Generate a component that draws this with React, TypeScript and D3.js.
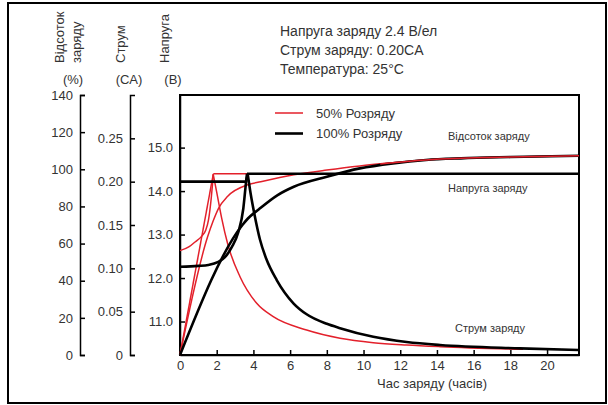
import React, { useRef, useEffect } from 'react';
import * as d3 from 'd3';

type Pt = [number, number];

// час (год), значення
const voltage50: Pt[] = [[0, 12.63], [0.5, 12.72], [0.82, 12.83], [1.2, 12.97], [1.4, 13.1], [1.55, 13.33], [1.7, 13.83], [1.78, 14.2], [1.82, 14.4]];
const voltage50Flat: Pt[] = [[1.82, 14.4], [3.65, 14.4]];
const voltage100: Pt[] = [[0, 12.26], [1.0, 12.28], [1.54, 12.3], [2.09, 12.37], [2.45, 12.48], [2.82, 12.71], [3.18, 13.06], [3.45, 13.6], [3.58, 14.13], [3.65, 14.4]];
const voltage100Flat: Pt[] = [[3.65, 14.4], [21.74, 14.4]];

const current50Rise: Pt[] = [[0, 0], [1.81, 0.2085]];
const current50Decay: Pt[] = [[1.81, 0.2085], [2.0, 0.188], [2.27, 0.158], [2.6, 0.128], [3.27, 0.0903], [4.18, 0.0596], [5.08, 0.0442], [6.9, 0.0288], [8.72, 0.0193], [10.53, 0.0142], [12.35, 0.0115], [14.17, 0.0096], [18.7, 0.0065]];
const current100Flat: Pt[] = [[0, 0.2], [3.6, 0.2], [3.69, 0.2085]];
const current100Decay: Pt[] = [[3.69, 0.2085], [3.85, 0.186], [4.05, 0.163], [4.36, 0.133], [4.7, 0.111], [5.27, 0.0865], [6.18, 0.0597], [6.9, 0.047], [8, 0.036], [8.72, 0.031], [10.53, 0.021], [12.35, 0.015], [14.17, 0.0115], [18.53, 0.0077], [21.74, 0.0058]];

const charge50: Pt[] = [[0, 0], [1.5, 63.5], [1.8, 72], [2.1, 79], [2.6, 85.5], [3.7, 91.7], [4.4, 93.3], [6.2, 97], [8, 99.6], [9.8, 101.8], [11.6, 103.5], [13.4, 105], [15.3, 105.9], [18, 106.6], [21.74, 107.3]];
const charge100: Pt[] = [[0, 0], [3.4, 70], [3.7, 73.5], [4.3, 78.5], [5.3, 86], [6.2, 90.6], [8, 96], [9.8, 100.5], [11.6, 103.2], [13.4, 105], [15.3, 105.9], [18, 106.6], [21.74, 107.3]];

const pctTicks = [0, 20, 40, 60, 80, 100, 120, 140];
const caTicks = [0, 0.05, 0.1, 0.15, 0.2, 0.25];
const vTicks = [11, 12, 13, 14, 15];
const timeTicks = [0, 2, 4, 6, 8, 10, 12, 14, 16, 18, 20];

const headerLines = ['Напруга заряду 2.4 В/ел', 'Струм заряду: 0.20CA', 'Температура: 25°C'];
const legendItems = [
  { label: '50% Розряду', color: '#e3202b', width: 1.5 },
  { label: '100% Розряду', color: '#000', width: 2.6 },
];

const RED = '#e3202b';
const TXT = '#333';
const FONT = '"Liberation Sans", Arial, sans-serif';

const App: React.FC = () => {
  const ref = useRef<SVGGElement>(null);

  useEffect(() => {
    if (!ref.current) return;
    const svg = d3.select(ref.current);
    svg.selectAll('*').remove();

    const left = 180, right = 579, top = 95, bottom = 355;
    const x = d3.scaleLinear().domain([0, 21.74]).range([left, right]);
    const yPct = d3.scaleLinear().domain([0, 140]).range([bottom, top]);
    const yCA = d3.scaleLinear().domain([0, 0.3]).range([bottom, top]);
    const yV = d3.scaleLinear().domain([10.23, 16.21]).range([bottom, top]);

    // outer border
    svg.append('rect').attr('x', 8).attr('y', 3).attr('width', 598).attr('height', 400)
      .attr('fill', 'none').attr('stroke', '#000').attr('stroke-width', 2);

    const styleAxis = (g: any) => {
      g.select('.domain').attr('stroke', '#000').attr('stroke-width', 1.5);
      g.selectAll('.tick line').attr('stroke', '#000').attr('stroke-width', 1.5);
      g.selectAll('.tick text').attr('fill', TXT).attr('font-size', 13).attr('font-family', FONT);
    };

    // % axis
    svg.append('g').attr('transform', 'translate(80,0)')
      .call(d3.axisLeft(yPct).tickValues(pctTicks).tickSizeInner(-5).tickSizeOuter(-5).tickPadding(7))
      .call(styleAxis);
    // CA axis
    svg.append('g').attr('transform', 'translate(130,0)')
      .call(d3.axisLeft(yCA).tickValues(caTicks).tickSizeInner(-5).tickSizeOuter(-5).tickPadding(7)
        .tickFormat(d => (+d === 0 ? '0' : d3.format('.2f')(+d))))
      .call(styleAxis);
    // V axis
    svg.append('g').attr('transform', `translate(${left},0)`)
      .call(d3.axisLeft(yV).tickValues(vTicks).tickSizeInner(-5).tickSizeOuter(0).tickPadding(7)
        .tickFormat(d3.format('.1f')))
      .call(styleAxis);
    // time axis
    const xa = svg.append('g').attr('transform', `translate(0,${bottom})`)
      .call(d3.axisBottom(x).tickValues(timeTicks).tickSizeInner(-5).tickSizeOuter(0).tickPadding(6))
      .call(styleAxis);
    xa.selectAll('.tick').filter(d => d === 0).select('line').remove();

    // plot frame
    svg.append('rect').attr('x', left).attr('y', top).attr('width', right - left).attr('height', bottom - top)
      .attr('fill', 'none').attr('stroke', '#000').attr('stroke-width', 2);

    const line = (y: d3.ScaleLinear<number, number>, curve: d3.CurveFactory) =>
      d3.line<Pt>().x(d => x(d[0])).y(d => y(d[1])).curve(curve);

    const draw = (data: Pt[], y: d3.ScaleLinear<number, number>, curve: d3.CurveFactory, color: string, w: number) =>
      svg.append('path').datum(data).attr('d', line(y, curve)).attr('fill', 'none')
        .attr('stroke', color).attr('stroke-width', w).attr('stroke-linejoin', 'round');

    const RW = 1.5, BW = 2.6;
    // 50%
    draw(voltage50, yV, d3.curveMonotoneX, RED, RW);
    draw(voltage50Flat, yV, d3.curveLinear, RED, RW);
    draw(current50Rise, yCA, d3.curveLinear, RED, RW);
    draw(current50Decay, yCA, d3.curveMonotoneX, RED, RW);
    draw(charge50, yPct, d3.curveMonotoneX, RED, RW);
    // 100%
    draw(voltage100, yV, d3.curveMonotoneX, '#000', BW);
    draw(voltage100Flat, yV, d3.curveLinear, '#000', BW);
    draw(current100Flat, yCA, d3.curveLinear, '#000', BW);
    draw(current100Decay, yCA, d3.curveMonotoneX, '#000', BW);
    draw(charge100, yPct, d3.curveMonotoneX, '#000', BW);
    // red tail over black
    const tail = draw(charge50, yPct, d3.curveMonotoneX, RED, RW);
    const tot = (tail.node() as SVGPathElement).getTotalLength();
    const startLen = tot * 0.62;
    tail.attr('stroke-dasharray', `0 ${startLen} ${tot - startLen}`);
  }, []);

  const text = (props: any, s: string) => (
    <text fontFamily={FONT} fill={TXT} {...props}>{s}</text>
  );

  return (
    <div style={{ position: 'absolute', left: 0, top: 0 }}>
      <svg width={608} height={405} style={{ display: 'block', background: '#fff' }}>
        <g ref={ref} />
        {/* axis titles */}
        {text({ transform: 'translate(64,63) rotate(-90)', fontSize: 13 }, 'Відсоток')}
        {text({ transform: 'translate(81,63) rotate(-90)', fontSize: 13 }, 'заряду')}
        {text({ transform: 'translate(125,63) rotate(-90)', fontSize: 13 }, 'Струм')}
        {text({ transform: 'translate(169,63) rotate(-90)', fontSize: 13 }, 'Напруга')}
        {text({ x: 73, y: 84, fontSize: 13, textAnchor: 'middle' }, '(%)')}
        {text({ x: 129, y: 84, fontSize: 13, textAnchor: 'middle' }, '(CA)')}
        {text({ x: 173, y: 84, fontSize: 13, textAnchor: 'middle' }, '(В)')}
        {headerLines.map((s, i) => (
          <text key={s} x={280} y={36 + i * 19} fontFamily={FONT} fill={TXT} fontSize={14}>{s}</text>
        ))}
        {legendItems.map((d, i) => (
          <g key={d.label} transform={`translate(275,${113 + i * 20.5})`}>
            <line x1={0} x2={28} stroke={d.color} strokeWidth={d.width} />
            <text x={41} dy="0.35em" fontFamily={FONT} fill={TXT} fontSize={13}>{d.label}</text>
          </g>
        ))}
        {text({ x: 448, y: 140, fontSize: 11 }, 'Відсоток заряду')}
        {text({ x: 448, y: 192, fontSize: 11 }, 'Напруга заряду')}
        {text({ x: 455, y: 332, fontSize: 11 }, 'Струм заряду')}
        {text({ x: 432, y: 388, fontSize: 13, textAnchor: 'middle' }, 'Час заряду (часів)')}
      </svg>
    </div>
  );
};

export default App;
